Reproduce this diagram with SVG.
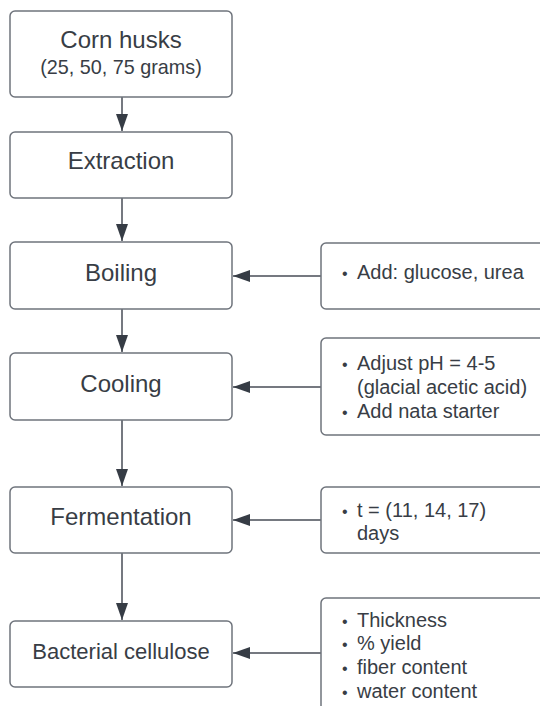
<svg xmlns="http://www.w3.org/2000/svg" width="540" height="706" viewBox="0 0 540 706">
<defs>
<style>
.box{fill:#ffffff;stroke:#6f747c;stroke-width:1.5}
.t{font-family:"Liberation Sans",Arial,sans-serif;fill:#383d45}
.title{font-size:24px;text-anchor:middle}
.sub{font-size:19.8px;text-anchor:middle}
.bc{font-size:22px;text-anchor:middle}
.r{font-size:20px}
.b{font-size:16px}
.c{stroke:#474d56;stroke-width:1.5;fill:none}
</style>
<marker id="ah" viewBox="0 0 17 12" refX="17" refY="6" markerWidth="17" markerHeight="12" markerUnits="userSpaceOnUse" orient="auto">
<path d="M0,0 L17,6 L0,12 Z" fill="#363c45"/>
</marker>
</defs>
<rect width="540" height="706" fill="#ffffff"/>
<g id="connectors">
<line class="c" x1="122" y1="97" x2="122" y2="131" marker-end="url(#ah)"/>
<line class="c" x1="122" y1="198" x2="122" y2="241" marker-end="url(#ah)"/>
<line class="c" x1="122" y1="309" x2="122" y2="352" marker-end="url(#ah)"/>
<line class="c" x1="122" y1="420" x2="122" y2="486" marker-end="url(#ah)"/>
<line class="c" x1="122" y1="553" x2="122" y2="620" marker-end="url(#ah)"/>
<line class="c" x1="321" y1="276" x2="233" y2="276" marker-end="url(#ah)"/>
<line class="c" x1="321" y1="387" x2="233" y2="387" marker-end="url(#ah)"/>
<line class="c" x1="321" y1="520" x2="233" y2="520" marker-end="url(#ah)"/>
<line class="c" x1="321" y1="653" x2="233" y2="653" marker-end="url(#ah)"/>
</g>
<g id="corn">
<rect class="box" x="10" y="11" width="222" height="86" rx="5"/>
<text class="t title" x="121" y="48">Corn husks</text>
<text class="t sub" x="121" y="74">(25, 50, 75 grams)</text>
</g>
<g id="extraction">
<rect class="box" x="10" y="132" width="222" height="66" rx="5"/>
<text class="t title" x="121" y="169">Extraction</text>
</g>
<g id="boiling">
<rect class="box" x="10" y="242" width="222" height="67" rx="5"/>
<text class="t title" x="121" y="281">Boiling</text>
</g>
<g id="cooling">
<rect class="box" x="10" y="353" width="222" height="67" rx="5"/>
<text class="t title" x="121" y="392">Cooling</text>
</g>
<g id="fermentation">
<rect class="box" x="10" y="487" width="222" height="66" rx="5"/>
<text class="t title" x="121" y="525">Fermentation</text>
</g>
<g id="bacterial">
<rect class="box" x="10" y="621" width="222" height="66" rx="5"/>
<text class="t bc" x="121" y="659">Bacterial cellulose</text>
</g>
<g id="add">
<rect class="box" x="321" y="243" width="240" height="66" rx="5"/>
<text class="t r" y="279"><tspan class="b" x="342">•</tspan><tspan x="357">Add: glucose, urea</tspan></text>
</g>
<g id="adjust">
<rect class="box" x="321" y="338" width="240" height="97" rx="5"/>
<text class="t r" y="370"><tspan class="b" x="342">•</tspan><tspan x="357">Adjust pH = 4-5</tspan></text>
<text class="t r" x="357" y="394">(glacial acetic acid)</text>
<text class="t r" y="418"><tspan class="b" x="342">•</tspan><tspan x="357">Add nata starter</tspan></text>
</g>
<g id="time">
<rect class="box" x="321" y="487" width="240" height="66" rx="5"/>
<text class="t r" y="517"><tspan class="b" x="342">•</tspan><tspan x="357">t = (11, 14, 17)</tspan></text>
<text class="t r" x="357" y="540">days</text>
</g>
<g id="measures">
<rect class="box" x="321" y="598" width="240" height="130" rx="5"/>
<text class="t r" y="627"><tspan class="b" x="342">•</tspan><tspan x="357">Thickness</tspan></text>
<text class="t r" y="650"><tspan class="b" x="342">•</tspan><tspan x="357">% yield</tspan></text>
<text class="t r" y="674"><tspan class="b" x="342">•</tspan><tspan x="357">fiber content</tspan></text>
<text class="t r" y="698"><tspan class="b" x="342">•</tspan><tspan x="357">water content</tspan></text>
</g>
</svg>
